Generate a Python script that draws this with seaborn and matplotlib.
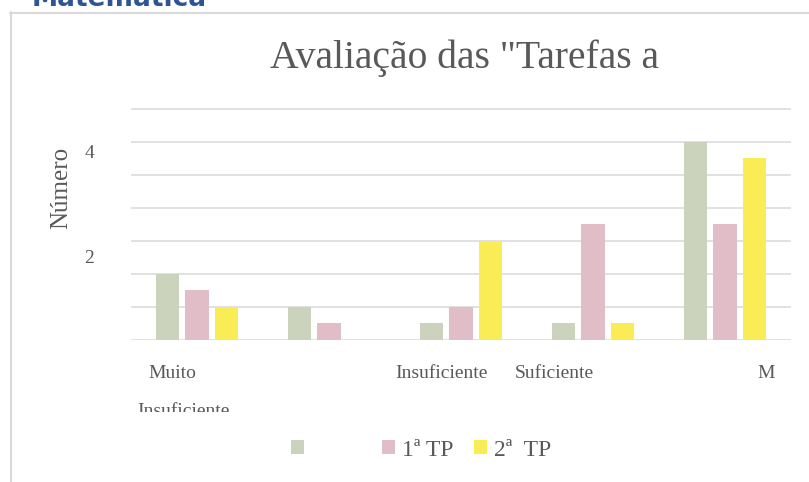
import matplotlib.pyplot as plt
import pandas as pd
import seaborn as sns
from matplotlib.patches import Patch
from matplotlib.lines import Line2D
from matplotlib.transforms import Bbox, TransformedBbox

# data
categories = ["Muito Insuficiente", "", "Insuficiente", "Suficiente", "M"]
series = ["", "1ª TP", "2ª TP"]
green_vals = [4, 2, 1, 1, 12]
pink_vals = [3, 1, 2, 7, 7]
yellow_vals = [2, 0, 6, 1, 11]
ytick_vals = [5.03, 11.4]
ytick_labels = ["2", "4"]

# x label texts as they appear (offsets in category units)
xlabel_texts = ["Muito", "Insuficiente", "Insuficiente", "Suficiente", "M"]
xlabel_pos = [-0.19, -0.106, 1.852, 2.705, 4.31]
xlabel_line = [0, 1, 0, 0, 0]

colors = {"": "#CBD3BD", "1ª TP": "#E1BDC8", "2ª TP": "#F9EC55"}
text_color = "#595959"
grid_color = "#D9D9D9"

df = pd.DataFrame({
    "categoria": categories * 3,
    "serie": [s for s in series for _ in categories],
    "valor": green_vals + pink_vals + yellow_vals,
})

sns.set_style("white")
plt.rcParams['font.family'] = ['Liberation Serif', 'DejaVu Serif']

W, H = 809, 482
fig = plt.figure(figsize=(W / 100, H / 100), dpi=100)
ax = fig.add_axes([131 / W, 1 - 340 / H, 660 / W, (340 - 107.3) / H])

sns.barplot(data=df, x="categoria", y="valor", hue="serie",
            order=categories, hue_order=series, palette=colors,
            saturation=1, width=0.67, gap=0.2, linewidth=0, errorbar=None,
            legend=False, ax=ax)

ax.set_xlim(-0.5, 4.5)
ax.set_ylim(0, 14.1)
ax.set_yticks(range(0, 15, 2))
ax.set_yticklabels([])
ax.set_yticks(ytick_vals, ytick_labels, minor=True)
ax.tick_params(axis='y', which='both', length=0)
ax.tick_params(axis='y', which='minor', pad=26.5, labelsize=14, labelcolor=text_color)
ax.set_xticks(range(len(categories)))
ax.set_xticklabels([""] * len(categories))
ax.tick_params(axis='x', length=0)
ax.set_xlabel("")
ax.set_ylabel("Número", fontsize=18, color=text_color, va='center')
ax.yaxis.set_label_coords(-0.105, 0.653)
ax.grid(axis='y', which='major', color=grid_color, lw=1.1)
ax.set_axisbelow(True)
for sp in ax.spines.values():
    sp.set_visible(False)

# category labels, second line is cut off at the bottom
clip = TransformedBbox(Bbox([[0, (H - 412) / H], [1, 1]]), fig.transFigure)
for txt, xp, line in zip(xlabel_texts, xlabel_pos, xlabel_line):
    t = ax.annotate(txt, xy=(xp, 0), xycoords=ax.get_xaxis_transform(),
                    xytext=(0, -(38 + 38 * line) * 0.72), textcoords='offset points',
                    ha='center', va='baseline', fontsize=14, color=text_color)
    if line:
        t.set_clip_box(clip)
        t.set_clip_on(True)

fig.text(464 / W, 1 - 68 / H, 'Avaliação das "Tarefas a', ha='center', va='baseline',
         fontsize=28.5, color=text_color)

# legend (first entry has no visible name)
handles = [Patch(facecolor=colors[s], edgecolor='none') for s in series]
leg = fig.legend(handles, ["1ª TP", "1ª TP", "2ª  TP"], loc='center', ncol=3,
                 bbox_to_anchor=(421 / W, 1 - 450 / H), frameon=False,
                 fontsize=17, handlelength=0.55, handleheight=0.55,
                 handletextpad=0.3, columnspacing=0.85, labelcolor=text_color)
leg.get_texts()[0].set_alpha(0)

# chart frame and cut heading above it
fig.add_artist(Line2D([10.5 / W, 10.5 / W], [0, 1 - 12 / H], color=grid_color, lw=1.5))
fig.add_artist(Line2D([10 / W, 1], [1 - 12.5 / H, 1 - 12.5 / H], color=grid_color, lw=1.5))
fig.text(32 / W, 1 - 6 / H, "Matemática", ha='left', va='baseline', fontsize=19,
         fontweight='bold', color="#2F5496", family='DejaVu Sans')

fig.savefig('out.png', dpi=100, facecolor='white')
